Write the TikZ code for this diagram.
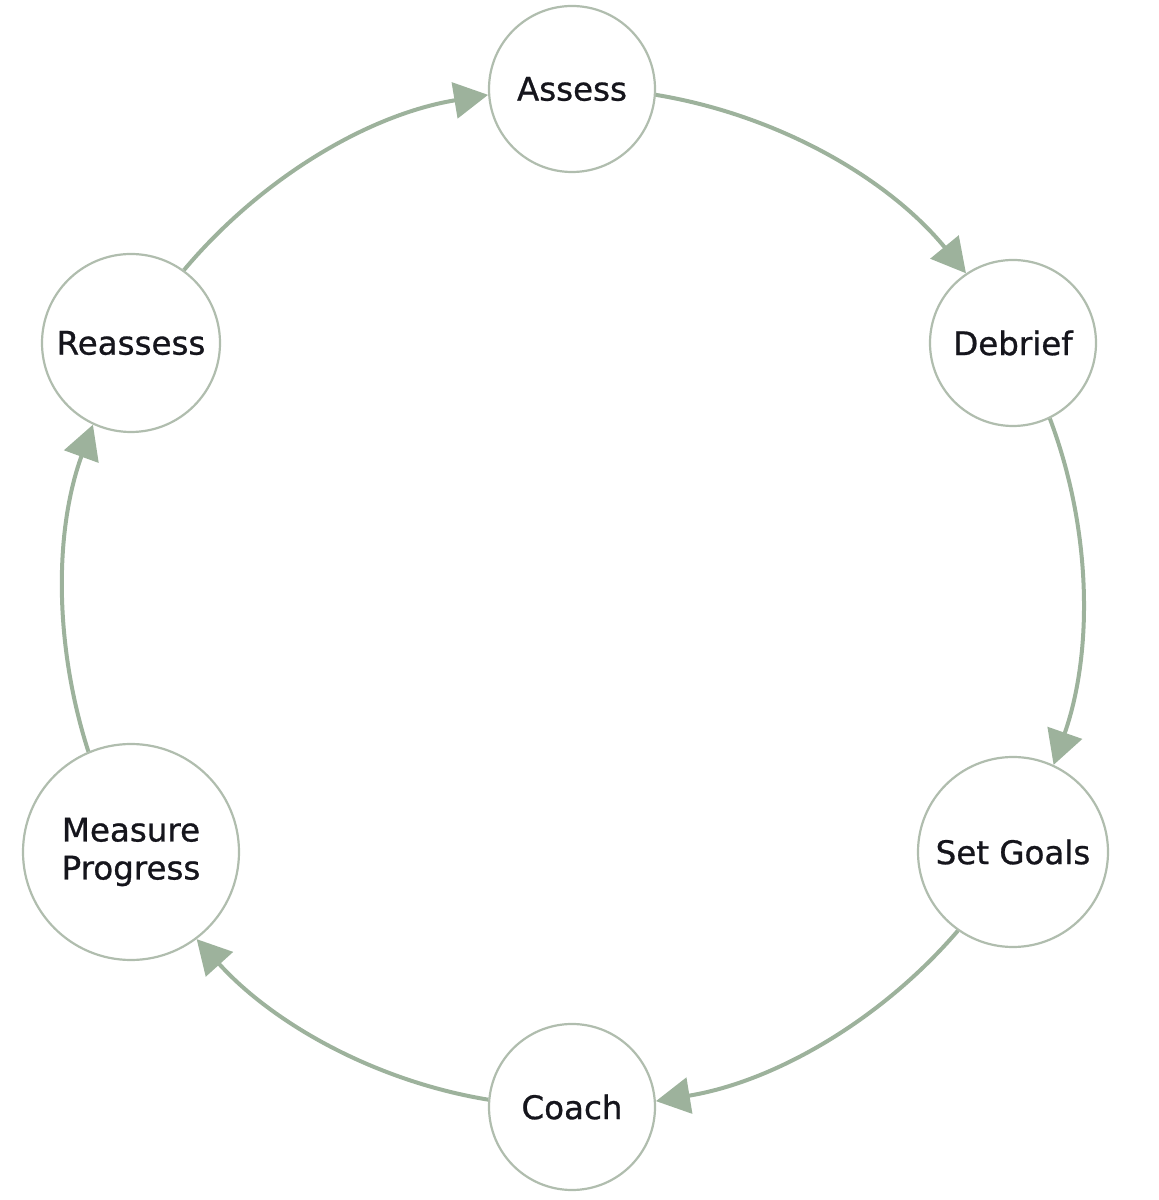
\documentclass[tikz,border=0pt]{standalone}
\usepackage{fontspec}
\setmainfont{DejaVu Sans}
\newfontfamily\labelfont[FakeBold=0.8]{DejaVu Sans}
\usetikzlibrary{arrows.meta}
\definecolor{arrowc}{HTML}{9DB29C}
\definecolor{ringc}{HTML}{B0BDAE}
\definecolor{txt}{HTML}{15151C}
\begin{document}
\begin{tikzpicture}[x=1pt,y=1pt,
  stage/.style={circle, draw=ringc, line width=2.2pt, fill=white, inner sep=0pt,
    text=txt, align=center, font=\labelfont\fontsize{32.5}{38}\selectfont},
  flow/.style={draw=arrowc, line width=4pt, -{Triangle[length=34pt,width=36pt]}, looseness=0.88}]
\useasboundingbox (0,0) rectangle (1159,1200);
\node[stage, minimum size=166pt] (assess) at (572,1111) {Assess};
\node[stage, minimum size=166pt] (debrief) at (1013,857) {Debrief};
\node[stage, minimum size=190pt] (goals) at (1013,348) {Set Goals};
\node[stage, minimum size=166pt] (coach) at (572,93) {Coach};
\node[stage, minimum size=216pt] (measure) at (131,348) {Measure\\Progress};
\node[stage, minimum size=178pt] (reassess) at (131,857) {Reassess};
\draw[flow] (assess.-4.67) to[out=-9.33, in=129.33] (debrief.124.67);
\draw[flow] (debrief.-64.67) to[out=-69.33, in=70.69] (goals.65.35);
\draw[flow] (goals.-125.35) to[out=-130.69, in=9.33] (coach.4.67);
\draw[flow] (coach.175.33) to[out=170.67, in=-47.84] (measure.-53.92);
\draw[flow] (measure.113.92) to[out=107.84, in=250.01] (reassess.245.0);
\draw[flow] (reassess.54.99) to[out=49.99, in=189.33] (assess.184.67);
\end{tikzpicture}
\end{document}
